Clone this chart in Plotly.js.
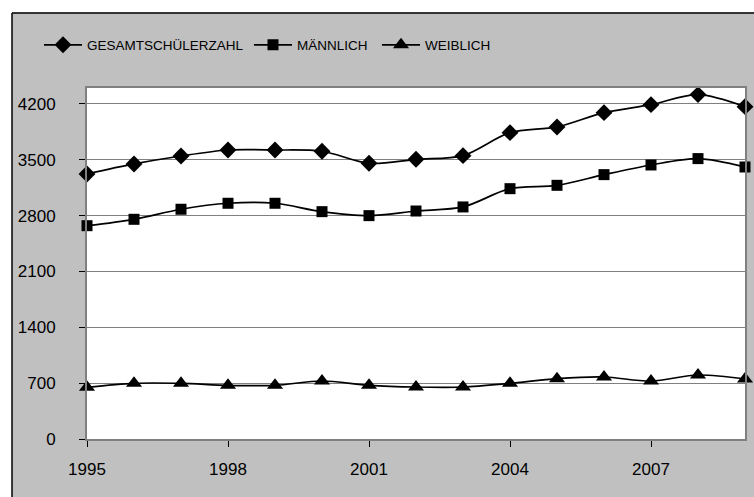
<!DOCTYPE html>
<html>
<head>
<meta charset="utf-8">
<script src="https://cdn.plot.ly/plotly-3.0.1.min.js"></script>
<style>html,body{margin:0;padding:0;background:#fff;}#chart{width:754px;height:497px;}</style>
</head>
<body>
<div id="chart"></div>
<script>
var years = [1995,1996,1997,1998,1999,2000,2001,2002,2003,2004,2005,2006,2007,2008,2009];
var gesamt = [3322,3448,3548,3623,3623,3607,3456,3506,3552,3840,3912,4091,4191,4317,4166];
var maennlich = [2674,2754,2880,2955,2955,2850,2800,2858,2909,3138,3180,3314,3435,3515,3410];
var weiblich = [648,698,698,673,673,727,673,652,652,698,756,777,727,802,752];
var seriesNames = ['GESAMTSCHÜLERZAHL','MÄNNLICH','WEIBLICH'];

var W = 754, H = 497, mL = 87, mR = 9, mT = 88, mB = 58;
var pw = W - mL - mR, ph = H - mT - mB;
function px(x){ return (x - mL) / pw; }
function py(y){ return (H - mB - y) / ph; }

function tr(y, name, sym, size, leg){
  return {x: years, y: y, name: name, type: 'scatter', mode: 'lines+markers', legend: leg,
    line: {color: '#000', width: 1.7, shape: 'spline', smoothing: 0.9},
    marker: {symbol: sym, size: size, color: '#000'}, cliponaxis: false};
}
var data = [
  tr(gesamt, seriesNames[0], 'diamond', 13, 'legend'),
  tr(maennlich, seriesNames[1], 'square', 11, 'legend2'),
  tr(weiblich, seriesNames[2], 'triangle-up', 14, 'legend3')
];
var fam = '"Liberation Sans", Arial, sans-serif';
var legFont = {size: 13.5, family: fam, color: '#000'};
function leg(xp){
  return {orientation: 'h', x: px(xp), xanchor: 'left', y: py(45), yanchor: 'middle', itemwidth: 38,
    bgcolor: 'rgba(0,0,0,0)', font: legFont, itemclick: false, borderwidth: 0};
}
var layout = {
  width: W, height: H,
  margin: {l: mL, r: mR, t: mT, b: mB},
  paper_bgcolor: '#c0c0c0', plot_bgcolor: '#fff',
  font: {family: fam, color: '#000', size: 17},
  showlegend: true,
  legend: leg(39), legend2: leg(249), legend3: leg(377),
  xaxis: {range: [1995, 2009], tick0: 1995, dtick: 3, showgrid: false, zeroline: false,
    showline: true, linecolor: '#808080', linewidth: 2, mirror: true,
    ticks: 'outside', ticklen: 6, tickcolor: '#000', tickwidth: 1,
    ticklabelstandoff: 8, tickfont: {size: 17, family: fam, color: '#000'}},
  yaxis: {range: [0, 4400], tick0: 0, dtick: 700, showgrid: true, gridcolor: '#808080', gridwidth: 1,
    zeroline: false, showline: true, linecolor: '#808080', linewidth: 2, mirror: true,
    ticks: 'outside', ticklen: 6, tickcolor: '#000', tickwidth: 1,
    ticklabelstandoff: 20, tickfont: {size: 17, family: fam, color: '#000'}},
  shapes: [
    {type: 'rect', xref: 'paper', yref: 'paper', x0: px(-5), x1: px(760), y0: py(0), y1: py(12.5), fillcolor: '#fff', line: {width: 0}, layer: 'below'},
    {type: 'rect', xref: 'paper', yref: 'paper', x0: px(-5), x1: px(12), y0: py(0), y1: py(505), fillcolor: '#fff', line: {width: 0}, layer: 'below'},
    {type: 'line', xref: 'paper', yref: 'paper', x0: px(12), x1: px(760), y0: py(13), y1: py(13), line: {color: '#000', width: 1.5}},
    {type: 'line', xref: 'paper', yref: 'paper', x0: px(12), x1: px(12), y0: py(13), y1: py(505), line: {color: '#000', width: 1.5}}
  ]
};
Plotly.newPlot('chart', data, layout, {displayModeBar: false, staticPlot: true});
</script>
</body>
</html>
